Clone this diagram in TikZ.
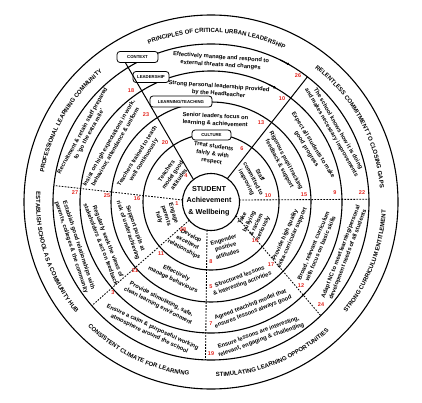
\documentclass[tikz,border=0pt]{standalone}
\usepackage{fontspec}
\setmainfont{Liberation Sans}
\usetikzlibrary{arrows.meta,decorations.text}
\definecolor{numred}{HTML}{E3231C}
\newcommand\bandfont{\fontsize{6}{7}\selectfont\bfseries}

\begin{document}
\begin{tikzpicture}[x=1pt, y=1pt,
  ring/.style={draw=black, line width=1.1pt},
  divider/.style={line width=1pt},
  split/.style={line width=0.85pt, dash pattern=on 1.6pt off 1.4pt},
  tag/.style={draw, fill=white, rounded corners=3pt, line width=0.8pt, font=\fontsize{4.3}{5}\selectfont\bfseries, minimum height=11pt, inner sep=1pt},
  cell/.style={align=center, font=\fontsize{5.8}{7.6}\selectfont\bfseries, inner sep=0pt},
  num/.style={text=numred, font=\fontsize{5.5}{6}\selectfont\bfseries, inner sep=0pt},
  band/.style={decorate, decoration={text along path, text align=center, text={|\bandfont|#1}}}
]
\useasboundingbox (0,0) rectangle (422,402);
\coordinate (C) at (211,200);

% rings
\foreach \r in {187,158,131,100,68,28.5}
  \draw[ring] (C) circle[radius=\r];
\draw[ring, -{Latex[length=3pt, width=3pt]}] ([shift={(64:158)}]C) arc[start angle=64, end angle=60, radius=158];
\draw[ring, -{Latex[length=3pt, width=3pt]}] ([shift={(64:131)}]C) arc[start angle=64, end angle=60, radius=131];

% principle labels in the outer band
\path[band={PRINCIPLES OF CRITICAL URBAN LEADERSHIP}] ([shift={(122:169.5)}]C) arc[start angle=122, end angle=54, radius=169.5];
\path[band={RELENTLESS COMMITMENT TO CLOSING GAPS}] ([shift={(63:169.5)}]C) arc[start angle=63, end angle=-6, radius=169.5];
\path[band={PROFESSIONAL LEARNING COMMUNITY}] ([shift={(182:169.5)}]C) arc[start angle=182, end angle=118, radius=169.5];
\path[band={STRONG CURRICULUM ENTITLEMENT}] ([shift={(-52:175)}]C) arc[start angle=-52, end angle=10, radius=175];
\path[band={STIMULATING LEARNING OPPORTUNITIES}] ([shift={(-102:175)}]C) arc[start angle=-102, end angle=-34, radius=175];
\path[band={CONSISTENT CLIMATE FOR LEARNING}] ([shift={(212:175)}]C) arc[start angle=212, end angle=276, radius=175];
\path[band={ESTABLISH SCHOOL AS A COMMUNITY HUB}] ([shift={(164:175)}]C) arc[start angle=164, end angle=232, radius=175];

% ring boxes
\node[tag, minimum width=41pt] (ctx) at (137.5,345) {CONTEXT};
\node[tag, minimum width=36pt] (lead) at (151,325) {LEADERSHIP};
\node[tag, minimum width=62pt] (learn) at (181,300.5) {LEARNING/TEACHING};
\node[tag, minimum width=39pt, minimum height=10pt] (cult) at (211.5,267) {CULTURE};

% dividers
\draw[divider] ([xshift=-12pt]ctx.south) -- ([shift={(128:28.5)}]C);
\draw[divider] ([shift={(52.4:158)}]C) -- ([shift={(55:28.5)}]C);
\draw[split] ([shift={(4:28.5)}]C) -- ([shift={(1:158)}]C);
\draw[split] ([shift={(-29:28.5)}]C) -- ([shift={(-46:158)}]C);
\draw[split] ([shift={(-98:28.5)}]C) -- ([shift={(-92:158)}]C);
\draw[split] ([shift={(220:28.5)}]C) -- ([shift={(221:158)}]C);
\draw[split] ([shift={(176:28.5)}]C) -- ([shift={(174:158)}]C);

% centre
\node[align=center, font=\fontsize{7.2}{11.5}\selectfont\bfseries] (core) at (209,201) {STUDENT\\Achievement\\\& Wellbeing};

% principles of critical urban leadership
\node[cell, rotate=-4] (a1) at ([shift={(86:141)}]C) {Effectively manage and respond to\\external threats and changes};
\node[cell, rotate=-4] (a2) at ([shift={(86:112)}]C) {Strong personal leadership provided\\by the Headteacher};
\node[cell, rotate=-3] (a3) at ([shift={(87:82)}]C) {Senior leaders focus on\\learning \& achievement};
\node[cell, rotate=-8] (a4) at ([shift={(88:48)}]C) {Treat students\\fairly \& with\\respect};

% relentless commitment
\node[cell, rotate=-60] (b1) at ([shift={(30:143)}]C) {The school knows how it is doing\\and makes necessary improvements};
\node[cell, rotate=-58] (b2) at ([shift={(29:113)}]C) {Expect all students to make\\good progress};
\node[cell, rotate=-62] (b3) at ([shift={(29:82)}]C) {Rigorous pupil tracking\\feedback \& support};
\node[cell, rotate=-62] (b4) at ([shift={(29:48)}]C) {Staff\\committed to\\improving};

% strong curriculum
\node[cell, rotate=69] (c1) at ([shift={(-21:143)}]C) {Adapt NC to meet learning/personal\\development needs of all students};
\node[cell, rotate=67] (c2) at ([shift={(-23:115)}]C) {Broad, relevant curriculum\\with focus on basic skills};
\node[cell, rotate=66] (c3) at ([shift={(-24:85)}]C) {Provide high quality\\extra-curricular support};
\node[cell, rotate=64] (c4) at ([shift={(-27:47)}]C) {Take\\bullying\\\& racism\\seriously};

% stimulating learning
\node[cell, rotate=20] (d1) at ([shift={(-70:143)}]C) {Ensure lessons are interesting,\\relevant, engaging \& challenging};
\node[cell, rotate=21] (d2) at ([shift={(-69:114)}]C) {Agreed teaching model that\\ensures lessons always good};
\node[cell, rotate=20] (d3) at ([shift={(-69:84)}]C) {Structured lessons\\\& interesting activities};
\node[cell, rotate=16] (d4) at ([shift={(-72:47)}]C) {Engender\\positive\\attitudes};

% consistent climate
\node[cell, rotate=-25] (e1) at ([shift={(245:142)}]C) {Ensure a calm \& purposeful working\\atmosphere around the school};
\node[cell, rotate=-27] (e2) at ([shift={(243:113)}]C) {Provide stimulating, safe,\\clean learning environment};
\node[cell, rotate=-26] (e3) at ([shift={(244:83)}]C) {Effectively\\manage behaviours};
\node[cell, rotate=-28] (e4) at ([shift={(240:47)}]C) {Develop\\excellent\\relationships};

% community hub
\node[cell, rotate=-72] (f1) at ([shift={(198:143)}]C) {Establish good relationships with\\parents, colleges \& the community};
\node[cell, rotate=-69] (f2) at ([shift={(201:114)}]C) {Regularly seek the views of\\stakeholders \& act on feedback};
\node[cell, rotate=-71] (f3) at ([shift={(199:84)}]C) {Support pupils at\\risk of underachieving};
\node[cell, rotate=-73] (f4) at ([shift={(197:47)}]C) {Engage\\parents\\fully};

% professional learning community
\node[cell, rotate=61] (g1) at ([shift={(151:143)}]C) {Recruitment \& retain staff prepared\\to `go the extra mile'};
\node[cell, rotate=60] (g2) at ([shift={(150:114)}]C) {Insist on high expectations in work,\\behaviour, attendance \& uniform};
\node[cell, rotate=58] (g3) at ([shift={(148:83)}]C) {Teachers trained to teach\\well continuously};
\node[cell, rotate=55] (g4) at ([shift={(145:47)}]C) {Teachers\\model good\\attitudes};

% numbers
\node[num] (n26) at (298,326) {26};
\node[num] (n10a) at (282,303) {10};
\node[num] (n13) at (261,279) {13};
\node[num] (n6) at (242,253) {6};
\node[num] (n10b) at (268,206) {10};
\node[num] (n15) at (304,207) {15};
\node[num] (n9) at (335,209) {9};
\node[num] (n22) at (362,209) {22};
\node[num] (n24) at (321,97) {24};
\node[num] (n12) at (301,116) {12};
\node[num] (n17) at (271,137) {17};
\node[num] (n14) at (255,161.5) {14};
\node[num] (n8) at (211,140) {8};
\node[num] (n5) at (211,115) {5};
\node[num] (n7) at (211,78) {7};
\node[num] (n19) at (211,48) {19};
\node[num] (n28) at (183,172) {28};
\node[num] (n11) at (161,148) {11};
\node[num] (n21) at (135,131) {21};
\node[num] (n3) at (113,109) {3};
\node[num] (n27) at (75,209) {27};
\node[num] (n25) at (107,206) {25};
\node[num] (n16) at (137,203) {16};
\node[num] (n1) at (177,198) {1};
\node[num] (n18) at (131,311) {18};
\node[num] (n23) at (146,287) {23};
\node[num] (n20) at (165,259) {20};
\node[num] (n4) at (186,226) {4};
\end{tikzpicture}
\end{document}
